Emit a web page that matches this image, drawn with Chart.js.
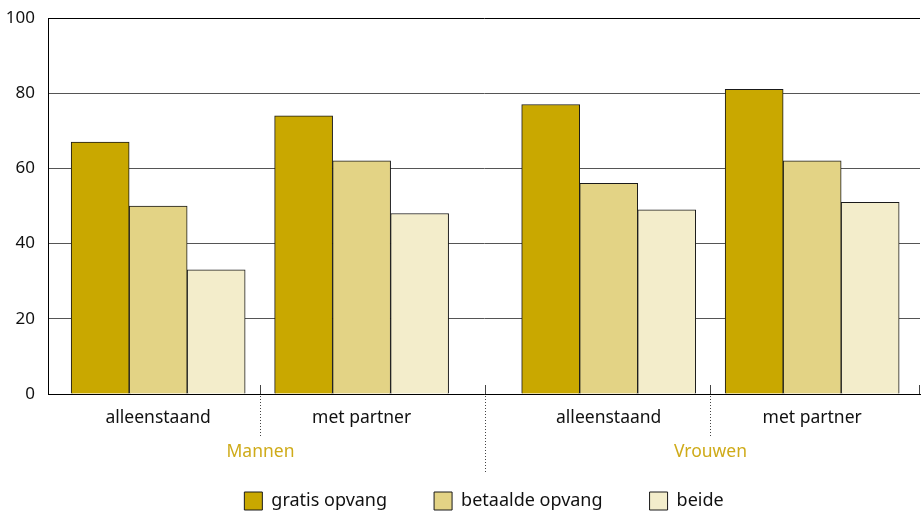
<!DOCTYPE html>
<html lang="nl">
<head>
    <meta charset="UTF-8">
    <title>Opvang</title>
    <script src="https://cdn.jsdelivr.net/npm/chart.js"></script>
    <style>
        html, body { margin: 0; padding: 0; background: #fff; }
        #wrap { width: 923px; height: 511px; }
    </style>
</head>
<body>
    <div id="wrap"><canvas id="chart" width="923" height="511"></canvas></div>

    <script>
        // data
        var categories = ['alleenstaand', 'met partner', 'alleenstaand', 'met partner'];
        var groupX = [3.75, 10.75, 19.25, 26.25];   // group centres on the x axis (axis units)
        var gratis = [67, 74, 77, 81];
        var betaalde = [50, 62, 56, 62];
        var beide = [33, 48, 49, 51];
        var seriesNames = ['gratis opvang', 'betaalde opvang', 'beide'];
        var yTicks = [0, 20, 40, 60, 80, 100];
        var groups = [
            { name: 'Mannen', sep: 7.25 },
            { name: 'Vrouwen', sep: 22.75 }
        ];
        var middleSep = 15;

        var font = "'Noto Sans', sans-serif";

        function pts(values) {
            return values.map(function (v, i) { return { x: groupX[i], y: v }; });
        }

        var separators = {
            id: 'separators',
            afterDraw: function (chart) {
                var ctx = chart.ctx;
                var xs = chart.scales.x;
                var y0 = chart.scales.y.getPixelForValue(0);
                ctx.save();
                function sep(val, len) {
                    var px = Math.round(xs.getPixelForValue(val)) + 0.5;
                    ctx.strokeStyle = '#444';
                    ctx.lineWidth = 1;
                    ctx.setLineDash([]);
                    ctx.beginPath();
                    ctx.moveTo(px, y0 - 9);
                    ctx.lineTo(px, y0);
                    ctx.stroke();
                    ctx.setLineDash([1, 2]);
                    ctx.beginPath();
                    ctx.moveTo(px, y0 + 2);
                    ctx.lineTo(px, y0 + len);
                    ctx.stroke();
                    return px;
                }
                groups.forEach(function (g) {
                    var px = sep(g.sep, 44);
                    ctx.fillStyle = '#cfab1a';
                    ctx.font = '17.5px ' + font;
                    ctx.textAlign = 'center';
                    ctx.textBaseline = 'middle';
                    ctx.fillText(g.name, px, y0 + 58);
                });
                sep(middleSep, 79);
                // small end tick at right
                var rx = Math.round(xs.right) - 0.5;
                ctx.setLineDash([]);
                ctx.strokeStyle = '#444';
                ctx.beginPath();
                ctx.moveTo(rx, y0 - 9);
                ctx.lineTo(rx, y0);
                ctx.stroke();
                ctx.restore();
            }
        };

        function noPad(scale) {
            scale.paddingTop = 0;
            scale.paddingBottom = 0;
            scale.paddingLeft = 0;
            scale.paddingRight = 0;
        }

        var ctx = document.getElementById('chart').getContext('2d');
        var chart = new Chart(ctx, {
            type: 'bar',
            data: {
                datasets: [{
                    label: seriesNames[0],
                    data: pts(gratis),
                    backgroundColor: '#c9a800',
                    borderColor: '#1a1a1a',
                    borderWidth: 1
                }, {
                    label: seriesNames[1],
                    data: pts(betaalde),
                    backgroundColor: '#e3d385',
                    borderColor: '#1a1a1a',
                    borderWidth: 1
                }, {
                    label: seriesNames[2],
                    data: pts(beide),
                    backgroundColor: '#f3edcb',
                    borderColor: '#1a1a1a',
                    borderWidth: 1
                }]
            },
            options: {
                responsive: false,
                animation: false,
                barThickness: 58,
                layout: { padding: { top: 18, right: 3, bottom: -9, left: 0 } },
                plugins: {
                    tooltip: { enabled: false },
                    legend: {
                        position: 'bottom',
                        fullSize: false,
                        labels: {
                            boxWidth: 18,
                            boxHeight: 18,
                            padding: 47,
                            color: '#111',
                            font: { family: font, size: 18 }
                        }
                    }
                },
                scales: {
                    x: {
                        type: 'linear',
                        offset: false,
                        min: -0.04,
                        max: 29.96,
                        grid: { display: false, offset: false },
                        border: { color: '#000', width: 1 },
                        afterBuildTicks: function (scale) {
                            scale.ticks = groupX.map(function (v) { return { value: v }; });
                        },
                        afterFit: function (scale) { scale.height = 51; noPad(scale); },
                        ticks: {
                            autoSkip: false,
                            maxRotation: 0,
                            padding: 6,
                            color: '#111',
                            font: { family: font, size: 17.5 },
                            callback: function (value, index) { return categories[index]; }
                        }
                    },
                    y: {
                        min: 0,
                        max: 100,
                        afterBuildTicks: function (scale) {
                            scale.ticks = yTicks.map(function (v) { return { value: v }; });
                        },
                        afterFit: function (scale) { scale.width = 48; noPad(scale); },
                        border: { color: '#000', width: 1 },
                        grid: {
                            drawTicks: false,
                            color: function (c) { return c.tick && c.tick.value === 100 ? '#000' : '#555'; }
                        },
                        ticks: {
                            padding: 13,
                            color: '#111',
                            font: { family: font, size: 17 }
                        }
                    }
                }
            },
            plugins: [separators]
        });
    </script>
</body>
</html>
